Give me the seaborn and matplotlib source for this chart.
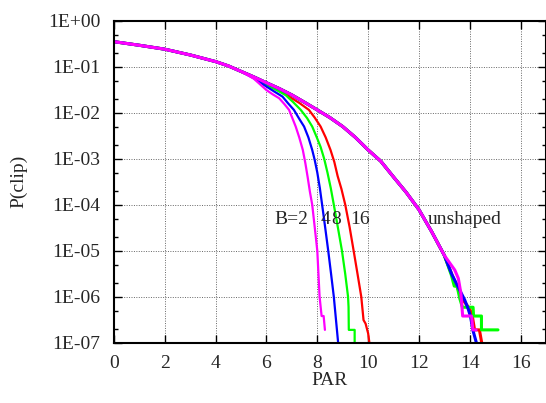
import numpy as np
import pandas as pd
import matplotlib
matplotlib.use("Agg")
import matplotlib.pyplot as plt
import seaborn as sns
from matplotlib.ticker import FixedLocator, FuncFormatter, LogLocator, NullFormatter

# common start of every curve, before the shaped ones split off
head_par = [0, 1, 2, 3, 4, 4.5, 5]
head_p = [0.35, 0.292, 0.240, 0.180, 0.129, 0.104, 0.079]

# unshaped curve (same for all B) up to PAR 13
unshaped_par = [5.5, 6, 6.5, 7, 7.5, 8, 8.5, 9, 9.5, 10, 10.5, 11, 11.5, 12, 12.5, 13]
unshaped_p = [0.060, 0.0447, 0.0335, 0.0243, 0.0168, 0.0115, 0.0078, 0.0050, 0.0029,
              0.00155, 0.00088, 0.00040, 0.000185, 7.8e-5, 2.6e-5, 7.9e-6]

# noisy tails of the unshaped curve, one per run
tail_par = {
    "16": [13.3, 13.7, 14.0, 14.1, 14.19, 14.38, 14.47],
    "8": [13.28, 13.39, 13.5, 13.61, 13.71, 14.13, 14.15, 14.46, 14.46, 15.11],
    "4": [13.3, 13.8, 13.93, 14.03, 14.12, 14.26],
    "2": [13.41, 13.55, 13.65, 13.72, 14.07, 14.12, 14.25],
}
tail_p = {
    "16": [3.0e-6, 9e-7, 5.4e-7, 3.8e-7, 1.9e-7, 1.9e-7, 1e-7],
    "8": [2.9e-6, 1.7e-6, 1.7e-6, 9e-7, 5.9e-7, 5.9e-7, 3.8e-7, 3.8e-7, 1.9e-7, 1.9e-7],
    "4": [3.0e-6, 8.5e-7, 5.6e-7, 3.7e-7, 1.9e-7, 1e-7],
    "2": [3.8e-6, 2.5e-6, 1.2e-6, 3.8e-7, 3.8e-7, 1.9e-7, 1.9e-7],
}

# shaped curves, after PAR 5
shaped_par = {
    "16": [5.5, 6, 6.5, 6.89, 7.3, 7.67, 7.9, 8.13, 8.33, 8.52, 8.67, 8.8, 8.95, 9.1,
           9.27, 9.43, 9.58, 9.73, 9.82, 9.9, 10.0, 10.05],
    "8": [5.5, 6, 6.4, 6.76, 7.05, 7.35, 7.6, 7.80, 7.97, 8.13, 8.27, 8.40, 8.53, 8.65,
          8.81, 8.97, 9.1, 9.21, 9.23, 9.24, 9.47, 9.47],
    "4": [5.5, 6, 6.3, 6.63, 6.85, 7.08, 7.3, 7.48, 7.65, 7.8, 7.9, 8.0, 8.1, 8.19, 8.31,
          8.43, 8.54, 8.65, 8.82],
    "2": [5.5, 6, 6.25, 6.5, 6.7, 6.89, 7.05, 7.15, 7.29, 7.43, 7.53, 7.62, 7.71, 7.8,
          7.9, 8.0, 8.09, 8.17, 8.25, 8.3],
}
shaped_p = {
    "16": [0.059, 0.041, 0.031, 0.0224, 0.0162, 0.0115, 0.0078, 0.0050, 0.0029, 0.00155,
           0.00085, 0.00042, 0.00022, 1e-4, 3.3e-5, 1e-5, 3.2e-6, 1e-6, 3.1e-7, 2.6e-7,
           1.6e-7, 1e-7],
    "8": [0.0575, 0.040, 0.031, 0.024, 0.017, 0.0115, 0.0076, 0.0050, 0.0030, 0.0018,
          0.0010, 0.0005, 0.00023, 1e-4, 3.2e-5, 1e-5, 3.1e-6, 1e-6, 6e-7, 1.9e-7, 1.9e-7,
          1e-7],
    "4": [0.056, 0.037, 0.029, 0.0224, 0.016, 0.0115, 0.0072, 0.0050, 0.0029, 0.00155,
          0.00093, 0.0005, 0.00023, 1e-4, 3.2e-5, 1e-5, 3.2e-6, 1e-6, 1e-7],
    "2": [0.055, 0.031, 0.025, 0.0206, 0.0155, 0.0115, 0.0069, 0.0050, 0.0029, 0.00155,
          0.00080, 0.0004, 0.00019, 1e-4, 3.2e-5, 1e-5, 1e-6, 3.8e-7, 3.8e-7, 1.9e-7],
}

colors = {"16": "#ff0000", "8": "#00ff00", "4": "#0000ff", "2": "#ff00ff"}
ytick_labels = ["1E-07", "1E-06", "1E-05", "1E-04", "1E-03", "1E-02", "1E-01", "1E+00"]

sns.set_style("ticks")
plt.rcParams["font.family"] = ["Liberation Serif", "DejaVu Serif"]

fig = plt.figure(figsize=(5.46, 4.03), dpi=100)
ax = fig.add_axes([114 / 546, 1 - 342.7 / 403, 432 / 546, 322 / 403])

for b in ["16", "8", "4", "2"]:
    shaped = pd.DataFrame({"PAR": head_par + shaped_par[b], "P": head_p + shaped_p[b]})
    unshaped = pd.DataFrame({"PAR": head_par + unshaped_par + tail_par[b],
                             "P": head_p + unshaped_p + tail_p[b]})
    sns.lineplot(data=shaped, x="PAR", y="P", ax=ax, color=colors[b], lw=1.6,
                 sort=False, estimator=None)
    sns.lineplot(data=unshaped, x="PAR", y="P", ax=ax, color=colors[b], lw=2.2,
                 sort=False, estimator=None)

ax.set_yscale("log")
ax.set_xlim(0, 17)
ax.set_ylim(1e-7, 1)
ax.xaxis.set_major_locator(FixedLocator([0, 2, 4, 6, 8, 10, 12, 14, 16]))
ax.yaxis.set_major_locator(FixedLocator([10.0 ** k for k in range(-7, 1)]))
ax.yaxis.set_major_formatter(FuncFormatter(lambda v, pos: ytick_labels[int(round(np.log10(v))) + 7]))
ax.yaxis.set_minor_locator(LogLocator(base=10, subs=[2, 5], numticks=20))
ax.yaxis.set_minor_formatter(NullFormatter())

ax.grid(True, which="major", color="#666666", linestyle=(0, (1, 1.5)), lw=0.7)
ax.tick_params(which="both", direction="in", top=True, right=True, labelsize=14,
               color="black", width=1)
ax.tick_params(which="major", length=6)
ax.tick_params(which="minor", length=3)
ax.tick_params(axis="x", pad=9)
ax.tick_params(axis="y", pad=10)
for s in ax.spines.values():
    s.set_linewidth(1.5)
    s.set_color("black")

ax.set_xlabel("PAR", fontsize=14)
ax.set_ylabel("P(clip)", fontsize=14)
ax.xaxis.set_label_coords(0.5, -0.092)
ax.yaxis.set_label_coords(-0.2, 0.5)

ax.text(6.3, 4.8e-5, "B=2", fontsize=14, va="center")
ax.text(8.14, 4.8e-5, "4", fontsize=14, va="center")
ax.text(8.53, 4.8e-5, "8", fontsize=14, va="center")
ax.text(9.31, 4.8e-5, "16", fontsize=14, va="center")
ax.text(12.33, 4.8e-5, "unshaped", fontsize=14, va="center")

fig.savefig("out.png", dpi=100)
